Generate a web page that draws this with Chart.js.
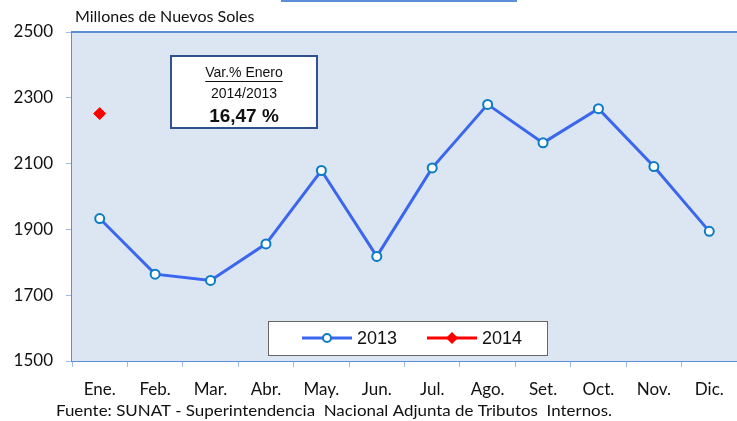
<!DOCTYPE html>
<html>
<head>
<meta charset="utf-8">
<script src="https://cdn.jsdelivr.net/npm/chart.js@4/dist/chart.umd.min.js"></script>
<style>
  html, body { margin: 0; padding: 0; background: #ffffff; overflow: hidden; }
  #wrap { width: 737px; height: 421px; position: relative; }
  canvas { display: block; }
</style>
</head>
<body>
<div id="wrap"><canvas id="recaudacionChart" width="737" height="421"></canvas></div>
<script>
// ==================== DATOS ====================
const months = ['Ene.', 'Feb.', 'Mar.', 'Abr.', 'May.', 'Jun.', 'Jul.', 'Ago.', 'Set.', 'Oct.', 'Nov.', 'Dic.'];
const values2013 = [1933, 1764, 1745, 1856, 2079, 1818, 2087, 2280, 2163, 2267, 2091, 1894];
const values2014 = [2252, null, null, null, null, null, null, null, null, null, null, null];
const yMin = 1500;
const yMax = 2500;
const yStep = 200;

const unitLabel = 'Millones de Nuevos Soles';
const sourceLabel = 'Fuente: SUNAT - Superintendencia  Nacional Adjunta de Tributos  Internos.';
const boxLines = ['Var.% Enero', '2014/2013', '16,47 %'];

const FONT = "Lato, 'Open Sans', sans-serif";
const AXIS_BLUE = '#5b8ed6';

// ==================== PLUGIN: fondo, cuadros y textos ====================
const decorPlugin = {
    id: 'decor',
    beforeDatasetsDraw(chart) {
        const { ctx, chartArea: a } = chart;
        ctx.save();
        ctx.fillStyle = '#dce6f2';
        ctx.fillRect(a.left, a.top, a.right - a.left, a.bottom - a.top);
        // borde superior
        ctx.strokeStyle = AXIS_BLUE;
        ctx.lineWidth = 2;
        ctx.beginPath();
        ctx.moveTo(a.left, a.top);
        ctx.lineTo(a.right, a.top);
        ctx.stroke();
        ctx.restore();
    },
    afterDraw(chart) {
        const { ctx } = chart;
        ctx.save();

        // trazo azul superior
        ctx.fillStyle = AXIS_BLUE;
        ctx.fillRect(281, 0, 236, 2);

        // unidad
        ctx.fillStyle = '#111';
        ctx.font = `16px ${FONT}`;
        ctx.textBaseline = 'middle';
        ctx.textAlign = 'left';
        ctx.fillText(unitLabel, 75, 17);

        // fuente
        ctx.font = `16px ${FONT}`;
        const sw = ctx.measureText(sourceLabel).width;
        ctx.save();
        ctx.translate(56, 411);
        ctx.scale(556 / sw, 1);
        ctx.fillText(sourceLabel, 0, 0);
        ctx.restore();

        // cuadro de variación
        ctx.fillStyle = '#ffffff';
        ctx.fillRect(171, 56, 146, 72);
        ctx.strokeStyle = '#2f528f';
        ctx.lineWidth = 2;
        ctx.strokeRect(171, 56, 146, 72);
        ctx.fillStyle = '#111';
        ctx.textAlign = 'center';
        ctx.font = '14px Arial, "Liberation Sans", sans-serif';
        ctx.fillText(boxLines[0], 244, 73);
        const w = ctx.measureText(boxLines[0]).width;
        ctx.fillRect(244 - w / 2, 81, w, 1);
        ctx.fillText(boxLines[1], 244, 94);
        ctx.font = 'bold 19px Arial, "Liberation Sans", sans-serif';
        ctx.fillText(boxLines[2], 244, 117);

        // leyenda
        ctx.fillStyle = '#ffffff';
        ctx.fillRect(268, 321, 279, 34);
        ctx.strokeStyle = '#666';
        ctx.lineWidth = 1;
        ctx.strokeRect(268.5, 321.5, 279, 34);
        const items = [
            { ds: chart.data.datasets[0], x: 302 },
            { ds: chart.data.datasets[1], x: 427 }
        ];
        items.forEach(it => {
            const ds = it.ds;
            const cy = 338;
            ctx.strokeStyle = ds.borderColor;
            ctx.lineWidth = 3;
            ctx.beginPath();
            ctx.moveTo(it.x, cy);
            ctx.lineTo(it.x + 50, cy);
            ctx.stroke();
            ctx.fillStyle = ds.pointBackgroundColor;
            ctx.strokeStyle = ds.pointBorderColor;
            ctx.lineWidth = ds.pointBorderWidth;
            const mx = it.x + 25;
            ctx.beginPath();
            if (ds.pointStyle === 'rectRot') {
                const r = 6;
                ctx.moveTo(mx, cy - r);
                ctx.lineTo(mx + r, cy);
                ctx.lineTo(mx, cy + r);
                ctx.lineTo(mx - r, cy);
                ctx.closePath();
                ctx.fill();
            } else {
                ctx.arc(mx, cy, 4, 0, Math.PI * 2);
                ctx.fill();
                ctx.stroke();
            }
            ctx.fillStyle = '#111';
            ctx.textAlign = 'left';
            ctx.font = '18px Arial, "Liberation Sans", sans-serif';
            ctx.fillText(ds.label, it.x + 55, cy + 1);
        });

        ctx.restore();
    }
};

// ==================== GRÁFICO ====================
const chartCtx = document.getElementById('recaudacionChart').getContext('2d');
const recaudacionChart = new Chart(chartCtx, {
    type: 'line',
    data: {
        labels: months,
        datasets: [{
            label: '2013',
            data: values2013,
            borderColor: '#3a66f0',
            borderWidth: 3,
            pointStyle: 'circle',
            pointRadius: 4.5,
            pointBackgroundColor: '#ffffff',
            pointBorderColor: '#0a7cc4',
            pointBorderWidth: 2,
            tension: 0
        }, {
            label: '2014',
            data: values2014,
            borderColor: '#ff0000',
            borderWidth: 3,
            showLine: false,
            pointStyle: 'rectRot',
            pointRadius: 6,
            pointBackgroundColor: '#ff0000',
            pointBorderColor: '#ff0000',
            pointBorderWidth: 1
        }]
    },
    options: {
        responsive: false,
        animation: false,
        layout: { autoPadding: false, padding: { top: 32, right: 0, bottom: 0, left: 0 } },
        plugins: {
            legend: { display: false },
            tooltip: { enabled: false }
        },
        scales: {
            y: {
                min: yMin,
                max: yMax,
                afterFit(scale) { scale.width = 72; },
                ticks: {
                    stepSize: yStep,
                    padding: 13,
                    color: '#111',
                    font: { family: FONT, size: 17 },
                    callback: value => String(value)
                },
                grid: {
                    drawOnChartArea: false,
                    drawTicks: true,
                    tickLength: 6,
                    tickColor: '#9fbbe6'
                },
                border: { color: AXIS_BLUE, width: 2 }
            },
            x: {
                offset: true,
                afterFit(scale) {
                    scale.height = 60;
                },
                ticks: {
                    padding: 12,
                    color: '#111',
                    font: { family: FONT, size: 17 },
                    maxRotation: 0
                },
                grid: {
                    offset: true,
                    drawOnChartArea: false,
                    drawTicks: true,
                    tickLength: 6,
                    tickColor: '#9fbbe6'
                },
                border: { color: AXIS_BLUE, width: 2 }
            }
        }
    },
    plugins: [decorPlugin]
});
</script>
</body>
</html>
